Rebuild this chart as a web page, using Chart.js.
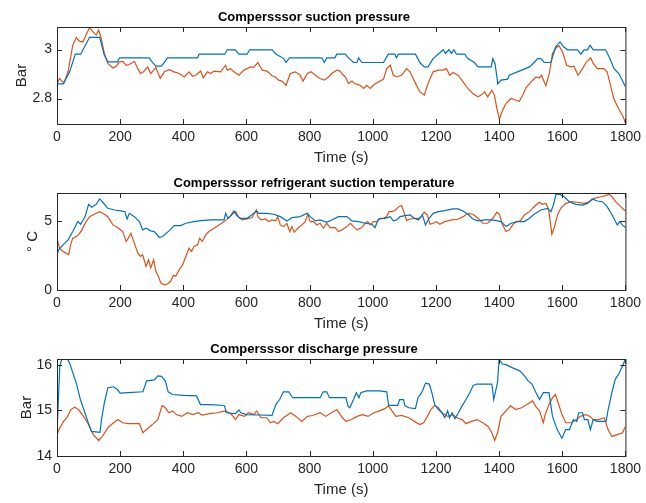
<!DOCTYPE html>
<html lang="en">
<head>
  <meta charset="UTF-8">
  <title>Compressor measurements</title>
  <script src="https://cdn.jsdelivr.net/npm/chart.js"></script>
  <style>
    body {
      margin: 0;
      background: #ffffff;
    }
    .figure {
      position: relative;
      width: 646px;
      height: 503px;
    }
    .panel {
      position: absolute;
      left: 0;
      width: 646px;
      height: 170px;
    }
  </style>
</head>
<body>
  <div class="figure">
    <div class="panel" style="top:0px"><canvas id="suctionPressure" width="646" height="170"></canvas></div>
    <div class="panel" style="top:166px"><canvas id="suctionTemp" width="646" height="170"></canvas></div>
    <div class="panel" style="top:332px"><canvas id="dischargePressure" width="646" height="170"></canvas></div>
  </div>

  <script>
    // time axis, seconds
    const xTicks = [0, 200, 400, 600, 800, 1000, 1200, 1400, 1600, 1800];

    // suction pressure [time, bar]
    const suctionPressureTicks = [2.8, 3];
    const suctionPressureA = [[0,2.860],[20,2.860],[40,2.909],[58,2.981],[75,2.981],[103,3.050],[135,3.050],[150,2.977],[161,2.950],[192,2.950],[198,2.966],[292,2.966],[303,2.947],[313,2.932],[331,2.932],[350,2.966],[445,2.966],[450,2.981],[531,2.981],[539,2.999],[565,2.999],[576,2.981],[602,2.981],[610,2.999],[681,2.999],[694,2.981],[718,2.963],[725,2.947],[736,2.966],[839,2.966],[846,2.947],[854,2.966],[880,2.966],[886,2.981],[913,2.981],[923,2.966],[939,2.947],[950,2.947],[955,2.966],[965,2.947],[1034,2.947],[1049,2.981],[1070,2.981],[1075,2.966],[1081,2.981],[1135,2.981],[1149,2.947],[1163,2.929],[1175,2.929],[1191,2.963],[1207,2.981],[1223,2.999],[1230,2.984],[1241,2.999],[1249,2.984],[1257,2.999],[1265,2.981],[1291,2.981],[1301,2.963],[1322,2.947],[1333,2.929],[1375,2.929],[1380,2.963],[1387,2.943],[1396,2.860],[1406,2.875],[1427,2.879],[1432,2.895],[1464,2.912],[1496,2.929],[1511,2.947],[1522,2.963],[1532,2.963],[1543,2.947],[1564,2.947],[1579,3.011],[1593,3.031],[1604,3.011],[1617,2.999],[1648,2.999],[1659,2.981],[1669,2.999],[1680,2.999],[1688,3.018],[1698,2.999],[1737,2.999],[1751,2.963],[1764,2.922],[1779,2.902],[1795,2.861],[1800,2.848]];
    const suctionPressureB = [[0,2.860],[8,2.882],[15,2.871],[22,2.864],[35,2.909],[50,3.018],[61,3.049],[71,3.034],[82,3.031],[92,3.059],[103,3.090],[114,3.072],[124,3.059],[132,3.079],[140,3.045],[150,2.984],[161,2.943],[177,2.925],[187,2.932],[198,2.950],[208,2.952],[219,2.936],[229,2.939],[245,2.952],[256,2.922],[264,2.902],[274,2.909],[287,2.929],[297,2.902],[306,2.916],[313,2.927],[327,2.882],[340,2.909],[355,2.918],[371,2.909],[387,2.902],[403,2.888],[418,2.909],[429,2.891],[439,2.895],[455,2.912],[463,2.884],[476,2.909],[487,2.902],[497,2.912],[518,2.909],[534,2.936],[539,2.916],[550,2.922],[560,2.909],[576,2.895],[592,2.916],[613,2.929],[623,2.927],[636,2.947],[650,2.916],[665,2.912],[681,2.893],[691,2.888],[702,2.875],[712,2.871],[725,2.854],[739,2.902],[755,2.909],[770,2.895],[779,2.871],[793,2.902],[804,2.909],[818,2.895],[833,2.882],[846,2.875],[860,2.888],[870,2.902],[886,2.916],[896,2.912],[905,2.898],[913,2.888],[923,2.861],[934,2.871],[942,2.861],[953,2.857],[960,2.854],[971,2.841],[981,2.854],[992,2.841],[1002,2.854],[1018,2.868],[1034,2.879],[1044,2.922],[1055,2.936],[1065,2.895],[1076,2.888],[1091,2.895],[1107,2.922],[1118,2.909],[1133,2.868],[1149,2.827],[1163,2.814],[1175,2.861],[1191,2.909],[1207,2.916],[1223,2.916],[1233,2.922],[1244,2.895],[1254,2.906],[1270,2.895],[1286,2.868],[1301,2.841],[1317,2.820],[1333,2.807],[1343,2.814],[1354,2.827],[1364,2.807],[1377,2.834],[1385,2.814],[1393,2.759],[1401,2.716],[1411,2.752],[1422,2.780],[1438,2.800],[1454,2.793],[1464,2.789],[1475,2.814],[1485,2.844],[1501,2.868],[1517,2.888],[1527,2.884],[1534,2.895],[1548,2.852],[1559,2.902],[1569,2.984],[1583,3.011],[1590,3.015],[1601,2.990],[1614,2.936],[1627,2.929],[1637,2.932],[1650,2.895],[1664,2.922],[1677,2.950],[1690,2.966],[1698,2.943],[1711,2.922],[1732,2.922],[1742,2.909],[1753,2.854],[1763,2.800],[1779,2.757],[1793,2.725],[1800,2.700]];

    // refrigerant suction temperature [time, deg C]
    const suctionTempTicks = [0, 5];
    const suctionTempA = [[0,2.55],[5,2.91],[19,3.27],[35,3.63],[50,4.23],[66,4.95],[75,4.76],[89,5.31],[100,6.20],[110,5.99],[124,6.20],[135,6.59],[145,6.35],[161,5.91],[182,5.79],[203,5.72],[215,5.67],[222,5.14],[229,5.55],[245,5.31],[261,4.95],[271,4.35],[282,4.47],[297,4.28],[308,4.23],[324,3.80],[334,3.87],[355,4.28],[371,4.66],[392,4.66],[408,4.83],[434,4.95],[455,5.02],[487,5.07],[529,5.07],[534,5.55],[541,5.19],[550,5.38],[560,5.72],[569,5.38],[581,5.19],[602,5.19],[613,5.38],[632,5.72],[639,5.55],[665,5.55],[686,5.48],[707,5.31],[728,5.00],[744,5.24],[770,5.31],[792,5.55],[802,5.31],[818,5.00],[833,5.07],[854,4.90],[870,5.07],[891,5.31],[918,5.31],[934,5.00],[955,4.95],[976,4.83],[997,4.76],[1007,4.52],[1018,5.14],[1039,5.19],[1055,5.31],[1065,5.00],[1076,5.07],[1086,5.31],[1102,5.38],[1118,5.43],[1131,5.19],[1144,5.07],[1157,5.43],[1167,4.71],[1177,5.14],[1191,5.55],[1207,5.67],[1228,5.75],[1254,5.87],[1270,5.87],[1286,5.72],[1301,5.48],[1317,5.14],[1333,5.00],[1354,5.07],[1375,5.07],[1396,5.00],[1406,4.95],[1422,4.59],[1438,4.83],[1459,4.95],[1480,4.95],[1496,5.19],[1511,5.48],[1532,5.79],[1553,5.91],[1564,5.67],[1572,6.15],[1580,6.92],[1593,6.92],[1606,6.75],[1622,6.39],[1643,6.20],[1664,6.15],[1680,6.27],[1695,6.59],[1711,6.44],[1727,6.39],[1742,6.03],[1758,5.43],[1774,4.71],[1782,4.95],[1790,4.71],[1800,4.52]];
    const suctionTempB = [[0,3.75],[8,3.03],[19,2.79],[29,2.67],[37,2.55],[43,3.27],[50,3.75],[61,3.87],[68,3.99],[77,4.28],[92,4.95],[103,5.31],[114,5.43],[124,5.55],[135,5.67],[150,5.48],[161,5.31],[177,4.71],[192,4.52],[208,4.23],[219,3.51],[226,3.75],[234,4.11],[245,3.39],[256,2.67],[264,2.43],[271,2.55],[282,1.71],[290,2.19],[297,1.59],[306,2.19],[313,1.35],[321,0.99],[329,0.50],[340,0.38],[350,0.43],[360,0.63],[369,1.06],[376,0.99],[387,1.47],[397,1.78],[408,2.43],[418,3.03],[426,2.79],[434,3.15],[445,3.27],[452,3.75],[460,3.51],[471,3.99],[481,4.23],[497,4.47],[513,4.71],[529,4.95],[545,5.24],[555,5.48],[566,5.67],[576,5.24],[587,5.07],[602,5.14],[618,5.24],[631,5.79],[636,5.31],[646,5.07],[660,5.14],[671,4.95],[681,5.07],[692,5.00],[699,5.31],[707,4.71],[718,4.59],[728,4.83],[737,4.23],[744,4.59],[751,4.18],[765,4.52],[776,4.71],[786,4.95],[794,5.48],[802,4.95],[812,4.95],[823,4.71],[833,4.83],[844,4.47],[854,4.83],[865,4.52],[881,4.52],[891,4.23],[902,4.35],[918,4.59],[929,4.83],[939,4.59],[950,4.35],[965,4.52],[976,4.83],[984,4.95],[992,4.71],[1002,4.95],[1013,4.95],[1023,5.19],[1034,5.19],[1044,5.31],[1051,5.67],[1062,5.67],[1072,5.79],[1083,6.03],[1091,6.11],[1100,5.55],[1107,5.02],[1118,5.14],[1133,5.19],[1149,5.19],[1163,5.63],[1173,5.43],[1181,4.76],[1191,4.83],[1202,4.95],[1212,4.76],[1228,4.95],[1249,5.07],[1270,5.12],[1286,5.31],[1301,5.55],[1317,5.48],[1333,5.19],[1349,4.83],[1364,4.83],[1380,5.19],[1393,5.63],[1401,5.48],[1411,4.71],[1422,4.23],[1433,4.35],[1443,4.71],[1454,4.95],[1467,5.00],[1480,5.43],[1496,5.67],[1511,6.03],[1527,6.35],[1538,6.20],[1548,6.27],[1556,5.91],[1562,4.95],[1567,4.04],[1574,4.47],[1585,5.43],[1595,5.91],[1611,6.27],[1627,6.39],[1648,6.35],[1669,6.27],[1685,6.39],[1701,6.63],[1722,6.75],[1737,6.83],[1748,6.92],[1758,6.75],[1769,6.39],[1785,6.03],[1800,5.72]];

    // discharge pressure [time, bar]
    const dischargePressureTicks = [14, 15, 16];
    const dischargePressureA = [[0,14.47],[4,15.17],[9,15.98],[15,16.13],[33,16.13],[41,16.02],[50,15.83],[62,15.58],[74,15.24],[85,15.02],[99,14.73],[109,14.54],[136,14.52],[141,14.80],[150,15.17],[161,15.50],[179,15.52],[191,15.46],[200,15.38],[226,15.39],[272,15.41],[284,15.65],[308,15.67],[319,15.76],[331,15.75],[343,15.65],[352,15.41],[366,15.35],[401,15.33],[442,15.32],[454,15.13],[483,15.13],[530,15.11],[536,14.95],[565,14.93],[576,15.01],[582,14.95],[600,14.91],[641,14.90],[681,14.89],[693,15.13],[705,15.24],[717,15.41],[734,15.41],[746,15.28],[775,15.28],[833,15.28],[843,15.41],[854,15.41],[863,15.28],[915,15.28],[921,15.10],[927,15.06],[939,15.24],[948,15.39],[956,15.28],[962,15.39],[980,15.43],[1021,15.43],[1044,15.41],[1050,15.11],[1079,15.11],[1085,15.24],[1097,15.24],[1102,15.10],[1114,15.06],[1135,15.04],[1143,15.28],[1155,15.39],[1167,15.60],[1179,15.58],[1187,15.39],[1196,15.13],[1208,15.02],[1219,14.95],[1228,14.84],[1237,14.99],[1243,14.84],[1251,14.95],[1260,14.82],[1271,14.95],[1283,15.10],[1295,15.24],[1307,15.39],[1318,15.55],[1330,15.58],[1377,15.58],[1383,15.24],[1395,15.61],[1400,16.13],[1410,16.02],[1424,16.00],[1441,15.94],[1465,15.87],[1476,15.80],[1492,15.65],[1504,15.58],[1517,15.39],[1528,15.24],[1540,15.39],[1558,15.39],[1569,14.87],[1584,14.58],[1599,14.39],[1611,14.58],[1623,14.58],[1635,14.80],[1646,14.76],[1652,14.95],[1664,14.95],[1670,14.80],[1681,14.80],[1689,14.58],[1698,14.80],[1710,14.76],[1739,14.76],[1745,15.01],[1757,15.39],[1768,15.69],[1779,15.80],[1791,15.98],[1800,16.13]];
    const dischargePressureB = [[0,14.47],[9,14.62],[21,14.76],[33,14.86],[44,15.02],[56,15.07],[68,15.02],[80,14.91],[97,14.73],[115,14.47],[132,14.34],[144,14.43],[161,14.62],[179,14.73],[193,14.80],[208,14.73],[226,14.71],[261,14.71],[272,14.51],[290,14.62],[302,14.69],[319,14.80],[333,15.11],[343,15.06],[354,14.95],[366,14.99],[378,14.91],[395,14.87],[413,14.95],[430,14.91],[448,14.95],[459,14.90],[483,14.93],[506,14.95],[535,14.99],[553,14.91],[565,14.80],[576,14.91],[594,14.87],[606,14.95],[623,14.91],[632,14.99],[646,14.84],[664,14.84],[676,14.73],[687,14.76],[699,14.71],[717,14.84],[740,14.95],[757,14.87],[775,14.76],[793,14.87],[810,14.89],[833,14.95],[851,14.87],[869,14.95],[886,15.02],[904,14.84],[915,14.76],[933,14.80],[950,14.87],[968,14.91],[985,14.87],[1003,14.95],[1021,14.99],[1038,15.04],[1050,15.10],[1061,14.99],[1073,14.87],[1091,14.89],[1114,14.84],[1132,14.76],[1149,14.69],[1161,14.73],[1173,14.87],[1184,15.02],[1196,15.11],[1208,15.06],[1219,14.95],[1237,14.87],[1254,14.91],[1266,14.84],[1283,14.80],[1295,14.71],[1312,14.76],[1330,14.80],[1348,14.73],[1365,14.65],[1377,14.51],[1386,14.34],[1395,14.51],[1406,14.87],[1418,14.96],[1436,15.10],[1453,15.02],[1471,15.06],[1488,15.13],[1506,15.21],[1517,15.08],[1528,14.99],[1540,14.73],[1546,14.91],[1558,15.13],[1569,15.28],[1578,15.35],[1587,15.17],[1599,14.91],[1611,14.73],[1628,14.73],[1646,14.80],[1657,14.87],[1675,14.91],[1687,14.87],[1698,14.80],[1716,14.80],[1733,14.84],[1745,14.58],[1757,14.43],[1774,14.47],[1791,14.51],[1800,14.65]];

    const FONT = '"Liberation Sans", Arial, Helvetica, sans-serif';
    const AXIS_COLOR = '#262626';
    const BLUE = '#0072BD';
    const ORANGE = '#D95319';

    // closed box with inward tick marks on all four sides
    const boxTicks = {
      id: 'boxTicks',
      afterDraw(chart) {
        const { ctx, chartArea: a, scales: { x, y } } = chart;
        const len = 5;
        ctx.save();
        ctx.strokeStyle = AXIS_COLOR;
        ctx.lineWidth = 1;
        ctx.beginPath();
        x.ticks.forEach(t => {
          const px = Math.round(x.getPixelForValue(t.value)) + 0.5;
          ctx.moveTo(px, a.bottom); ctx.lineTo(px, a.bottom - len);
          ctx.moveTo(px, a.top); ctx.lineTo(px, a.top + len);
        });
        y.ticks.forEach(t => {
          const py = Math.round(y.getPixelForValue(t.value)) + 0.5;
          ctx.moveTo(a.left, py); ctx.lineTo(a.left + len, py);
          ctx.moveTo(a.right, py); ctx.lineTo(a.right - len, py);
        });
        ctx.stroke();
        ctx.strokeRect(a.left + 0.5, a.top + 0.5, a.right - a.left, a.bottom - a.top);
        ctx.restore();
      }
    };

    function toPoints(pairs) {
      return pairs.map(p => ({ x: p[0], y: p[1] }));
    }

    function makePanel(id, title, yLabel, yMin, yMax, yTicks, yTitlePad, seriesA, seriesB) {
      new Chart(document.getElementById(id), {
        type: 'line',
        data: {
          datasets: [
            { data: toPoints(seriesA), borderColor: BLUE, borderWidth: 1.2 },
            { data: toPoints(seriesB), borderColor: ORANGE, borderWidth: 1.2 }
          ]
        },
        options: {
          responsive: false,
          animation: false,
          elements: { point: { radius: 0 }, line: { tension: 0 } },
          layout: { padding: { left: 0, right: 18, top: 0, bottom: 0 } },
          plugins: {
            legend: { display: false },
            tooltip: { enabled: false },
            title: {
              display: true,
              text: title,
              color: '#000000',
              font: { family: FONT, size: 13, weight: 'bold' },
              padding: { top: 9.5, bottom: 1.9 }
            }
          },
          scales: {
            x: {
              type: 'linear',
              min: 0,
              max: 1800,
              afterBuildTicks: s => { s.ticks = xTicks.map(v => ({ value: v })); },
              afterFit: s => { s.height = 46; },
              grid: { display: false, drawTicks: false },
              border: { display: false },
              ticks: { color: AXIS_COLOR, font: { family: FONT, size: 14 }, padding: 5, maxRotation: 0, autoSkip: false, callback: v => String(v) },
              title: { display: true, text: 'Time (s)', color: AXIS_COLOR, font: { family: FONT, size: 15 }, padding: { top: 0, bottom: 3 } }
            },
            y: {
              type: 'linear',
              min: yMin,
              max: yMax,
              afterBuildTicks: s => { s.ticks = yTicks.map(v => ({ value: v })); },
              afterFit: s => { s.width = 57; },
              grid: { display: false, drawTicks: false },
              border: { display: false },
              ticks: { color: AXIS_COLOR, font: { family: FONT, size: 14 }, padding: 5, callback: v => String(v) },
              title: { display: true, text: yLabel, color: AXIS_COLOR, font: { family: FONT, size: 15 }, padding: { top: yTitlePad, bottom: 0 } }
            }
          }
        },
        plugins: [boxTicks]
      });
    }

    makePanel('suctionPressure', 'Compersssor suction pressure', 'Bar', 2.696, 3.092, suctionPressureTicks, 13, suctionPressureA, suctionPressureB);
    makePanel('suctionTemp', 'Compersssor refrigerant suction temperature', '° C', 0, 7.02, suctionTempTicks, 24, suctionTempA, suctionTempB);
    makePanel('dischargePressure', 'Compersssor discharge pressure', 'Bar', 14, 16.13, dischargePressureTicks, 17.5, dischargePressureA, dischargePressureB);
  </script>
</body>
</html>
